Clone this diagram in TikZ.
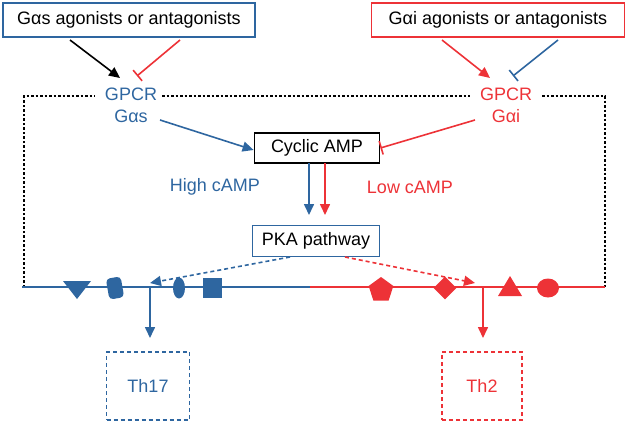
\documentclass[tikz,border=0pt]{standalone}
\usepackage{fontspec}
\setmainfont{Liberation Sans}
\usetikzlibrary{arrows.meta,shapes.geometric}
\definecolor{bl}{RGB}{46,102,160}
\definecolor{rd}{RGB}{237,50,55}
\begin{document}
\begin{tikzpicture}[x=1pt,y=-1pt,font=\fontsize{18}{22}\selectfont,
 arr/.style={-{Triangle[length=11pt,width=10pt]},line width=1.6pt},
 tbar/.style={-{Bar[width=14pt]},line width=1.6pt},
 dsh/.style={dash pattern=on 4pt off 3pt,line width=1.6pt},
 mk/.style={fill,inner sep=0pt}]
\useasboundingbox (0,0) rectangle (629,423);
\node[draw=bl,line width=1.8pt,minimum width=252pt,minimum height=34pt,inner sep=0pt] (ga) at (129,20) {Gαs agonists or antagonists};
\node[draw=rd,line width=1.8pt,minimum width=253pt,minimum height=34pt,inner sep=0pt] (gi) at (498,20) {Gαi agonists or antagonists};
\node[text=bl,align=center] (gs) at (131,105) {GPCR\\Gαs};
\node[text=rd,align=center] (gir) at (506,105) {GPCR\\Gαi};
\coordinate (a1) at (70,40); \coordinate (a2) at (120,78);
\coordinate (b1) at (180,40); \coordinate (b2) at (137,76);
\draw[arr] (a1) -- (a2);
\draw[tbar,rd] (b1) -- (b2);
\coordinate (c1) at (442,40); \coordinate (c2) at (490,78);
\coordinate (d1) at (558,40); \coordinate (d2) at (513,76);
\draw[arr,rd] (c1) -- (c2);
\draw[tbar,bl] (d1) -- (d2);
\coordinate (p1) at (24,287); \coordinate (p2) at (24,96); \coordinate (p3) at (95,96);
\coordinate (p4) at (162,96); \coordinate (p5) at (470,96);
\coordinate (p6) at (542,96); \coordinate (p7) at (605,96); \coordinate (p8) at (605,287);
\draw[dash pattern=on 2.5pt off 2pt,line width=1.5pt] (p1) -- (p2) -- (p3) (p4) -- (p5) (p6) -- (p7) -- (p8);
\node[draw,fill=white,line width=1.8pt,minimum width=125pt,minimum height=30pt,inner sep=0pt] (camp) at (317,148) {Cyclic AMP};
\coordinate (s1) at (160,120);
\draw[arr,bl] (s1) -- (camp.west|-0,150);
\coordinate (r1) at (475,120);
\draw[tbar,rd] (r1) -- (camp.east);
\draw[arr,bl] (309,163) -- (309,215);
\draw[arr,rd] (325,163) -- (325,215);
\node[text=bl] (hi) at (215,187) {High cAMP};
\node[text=rd] (lo) at (410,187) {Low cAMP};
\node[draw=bl,line width=1.8pt,minimum width=127pt,minimum height=31pt,inner sep=0pt] (pka) at (316,241) {PKA pathway};
\coordinate (e1) at (150,283); \coordinate (e2) at (475,283);
\draw[arr,dsh,bl] (290,257) -- (e1);
\draw[arr,dsh,rd] (345,257) -- (e2);
\draw[bl,line width=2.2pt] (22,287) -- (310,287);
\draw[rd,line width=2.2pt] (310,287) -- (605,287);
\node[draw=bl,dsh,minimum width=83pt,minimum height=68pt,text=bl] (t17) at (148,386) {Th17};
\node[draw=rd,dsh,minimum width=80pt,minimum height=68pt,text=rd] (t2) at (482,386) {Th2};
\draw[arr,bl] (150,287) -- (150,338);
\draw[arr,rd] (483,287) -- (483,338);
% markers
\fill[bl] (63,281) -- (91,281) -- (77,299) -- cycle;
\node[mk,bl,shape=rectangle,rounded corners=4pt,minimum width=15pt,minimum height=21pt,rotate=10] at (115,288) {};
\node[mk,bl,ellipse,minimum width=12pt,minimum height=21pt] at (179,288) {};
\node[mk,bl,minimum width=19pt,minimum height=20pt] at (212,288) {};
\node[mk,rd,regular polygon,regular polygon sides=5,minimum size=26pt] at (381,290) {};
\node[mk,rd,diamond,minimum width=23pt,minimum height=23pt] at (445,288) {};
\fill[rd] (498,296) -- (522,296) -- (510,276) -- cycle;
\node[mk,rd,ellipse,minimum width=22pt,minimum height=19pt] at (548,288) {};
\end{tikzpicture}
\end{document}
